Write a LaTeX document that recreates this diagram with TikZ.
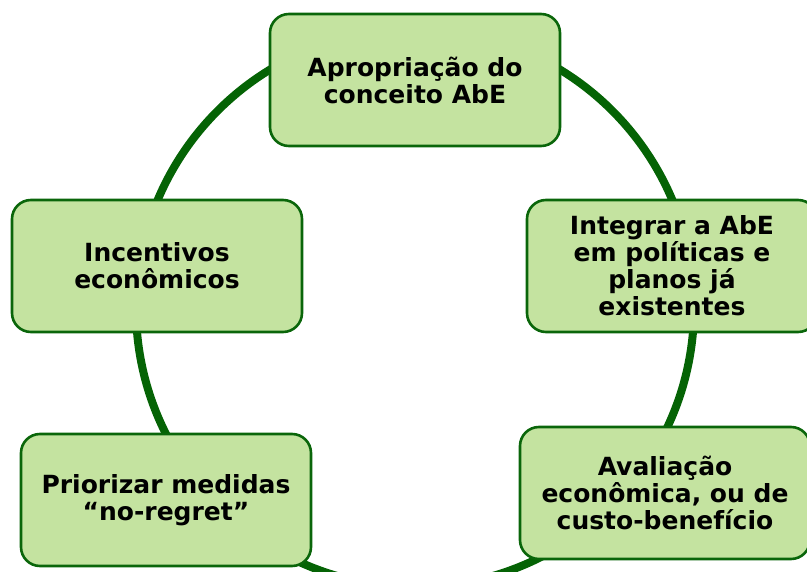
\documentclass[tikz,border=0pt]{standalone}
\usepackage{fontspec}
\setmainfont{DejaVu Sans}
\definecolor{leafgreen}{HTML}{C4E3A0}
\definecolor{darkleaf}{HTML}{0A660A}
\definecolor{ringgreen}{HTML}{056305}
\tikzset{
  stepbox/.style={draw=darkleaf, line width=2.6pt, fill=leafgreen, rounded corners=19pt,
    minimum width=290pt, minimum height=132pt, inner sep=0pt, align=center,
    font=\bfseries\fontsize{25}{27}\selectfont},
  ring/.style={draw=ringgreen, line width=8pt}
}
\begin{document}
\begin{tikzpicture}[x=1pt, y=-1pt]
\useasboundingbox (0,0) rectangle (807,572);
\clip (0,0) rectangle (807,572);

\draw[ring] (415,308) circle (279pt);

\node (aprop) at (415,80)[stepbox]{Apropriação do\\conceito AbE};
\node (integ) at (672,266)[stepbox]{Integrar a AbE\\em políticas e\\planos já\\existentes};
\node (avali) at (665,493)[stepbox]{Avaliação\\econômica, ou de\\custo-benefício};
\node (prior) at (166,500)[stepbox]{Priorizar medidas\\“no-regret”};
\node (incen) at (157,266)[stepbox]{Incentivos\\econômicos};

\end{tikzpicture}
\end{document}
